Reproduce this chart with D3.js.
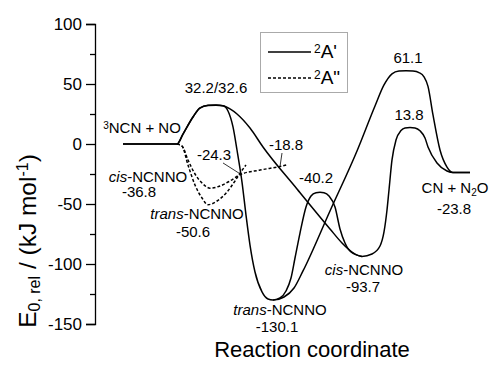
<!DOCTYPE html>
<html>
<head>
<meta charset="utf-8">
<script src="https://cdn.jsdelivr.net/npm/d3@7"></script>
<style>
  html, body { margin: 0; padding: 0; background: #fff; }
  svg { display: block; font-family: "Liberation Sans", Arial, sans-serif; }
</style>
</head>
<body>
<svg id="chart" width="489" height="368"></svg>
<script>
// Potential energy profile of 3NCN + NO -> CN + N2O.
// Each path is [reaction coordinate (arb. units), E0,rel (kJ/mol)].

// 2A' surface: reactants -> TS -> trans-NCNNO -> TS -> products
const pathTrans2Ap = [
  [14, 0], [41, 0], [44, 8.3], [49, 22.5], [52.5, 30], [56.5, 32.0], [60.5, 32.2],
  [64, 31.8], [66.5, 27.5], [69, 14.2], [71, -5], [73.5, -31.7], [75.5, -59.2],
  [77.5, -84.2], [80, -106.7], [83.5, -123.3], [86.5, -129.2], [89, -130.1],
  [94.5, -127.5], [99.5, -120], [104, -105.8], [117.5, -55.8], [131, -5.8],
  [140, 31.7], [144.5, 49.2], [148.5, 58.5], [152, 60.8], [155.5, 61.1], [159, 60.8],
  [162, 59.5], [164.5, 56], [166.5, 48], [169, 24.2], [172.5, -5], [176, -19.2],
  [179, -23.8], [187.5, -23.8]
];

// 2A' surface: reactants -> TS -> cis-NCNNO -> TS -> products
const pathCis2Ap = [
  [14, 0], [41, 0], [44, 8.3], [49, 22.5], [52.5, 30], [56.5, 32.3], [60.5, 32.6],
  [64.5, 31.7], [67.5, 29.2], [71, 25], [77.5, 13.3], [84, -2.5], [101, -37.5],
  [117.5, -70.8], [123.5, -82.5], [128.5, -90], [133.5, -93.7], [138.5, -91.7],
  [142.5, -85], [144.5, -73.3], [146, -55], [147, -38.3], [148.5, -13.3],
  [150.5, 3.3], [153, 11.2], [155, 13.4], [157.5, 13.8], [160, 13.4], [162.5, 11],
  [165, 5], [166.5, -2.5], [171, -15.8], [176, -22.5], [179, -23.8], [187.5, -23.8]
];

// 2A' isomerisation trans-NCNNO -> TS -> cis-NCNNO
const pathIsom2Ap = [
  [89, -130.1], [92.5, -128.3], [95.5, -122.5], [98, -111.7], [100, -95],
  [102.5, -74.2], [105.5, -52.5], [108, -43.3], [110.5, -40.6], [112.5, -40.2],
  [114.5, -40.6], [117, -43.3], [120, -52.5], [122.5, -70.8], [125, -82.5],
  [128, -90], [133.5, -93.7]
];

// 2A'' surface: cis-NCNNO well and its exit
const pathCis2App = [
  [41, 0], [43.5, -1.7], [46.5, -13.3], [50, -25], [53.5, -32.5], [57.5, -36.8],
  [62.5, -35], [67.5, -30.8], [72.5, -25.6], [82.5, -21.7], [92.5, -18.8],
  [96.5, -17.2]
];

// 2A'' surface: trans-NCNNO well and its exit
const pathTrans2App = [
  [41, 0], [43.5, -1.7], [46.5, -17.5], [50, -34.2], [53.5, -45], [56.5, -50.6],
  [61, -47.5], [66, -40], [70, -30.8], [72.5, -24.3], [75.5, -17.5]
];

// y-axis ticks
const majorTicks = [-150, -100, -50, 0, 50, 100];
const minorTicks = [-125, -75, -25, 25, 75];

// Annotations: text, anchor in data units
const labels = [
  { parts: [["32.2/32.6"]], at: [60.5, 42.5] },
  { parts: [["3", "sup"], ["NCN + NO"]], at: [23.5, 9.2] },
  { parts: [["cis", "it"], ["-NCNNO"]], at: [26.5, -31.7] },
  { parts: [["-36.8"]], at: [22, -44.2] },
  { parts: [["trans", "it"], ["-NCNNO"]], at: [51, -62.5] },
  { parts: [["-50.6"]], at: [49, -77.5] },
  { parts: [["-24.3"]], at: [59.5, -13.3] },
  { parts: [["-18.8"]], at: [95.5, -5] },
  { parts: [["-40.2"]], at: [110.5, -32.5] },
  { parts: [["61.1"]], at: [156.5, 67.5] },
  { parts: [["13.8"]], at: [157, 20] },
  { parts: [["CN + N"], ["2", "sub"], ["O"]], at: [180, -40.8] },
  { parts: [["-23.8"]], at: [179.5, -58.3] },
  { parts: [["cis", "it"], ["-NCNNO"]], at: [134.5, -109.2] },
  { parts: [["-93.7"]], at: [134, -123.3] },
  { parts: [["trans", "it"], ["-NCNNO"]], at: [92.5, -142.5] },
  { parts: [["-130.1"]], at: [91, -156.7] }
];

// Leader lines from value labels to the saddle points
const leaders = [
  [[64, -15.8], [72, -24.3]],
  [[93.5, -7.5], [92.5, -18.8]]
];

const svg = d3.select("#chart");
const x = d3.scaleLinear().domain([0, 200]).range([95, 495]);
const y = d3.scaleLinear().domain([-150, 100]).range([324, 24]);

// Axis
const yAxis = svg.append("g").attr("transform", `translate(${x(0)},0)`)
  .call(d3.axisLeft(y).tickValues(majorTicks).tickSize(9).tickPadding(4)
    .tickFormat(d => String(d)));
yAxis.selectAll("path").attr("stroke", "#000").attr("stroke-width", 1.3);
yAxis.selectAll(".tick line").attr("stroke", "#000").attr("stroke-width", 1.3);
yAxis.selectAll("text").attr("font-size", 17).attr("fill", "#000")
  .attr("font-family", "Liberation Sans, Arial, sans-serif");

const yMinor = svg.append("g").attr("transform", `translate(${x(0)},0)`)
  .call(d3.axisLeft(y).tickValues(minorTicks).tickSize(5).tickFormat(""));
yMinor.select("path").remove();
yMinor.selectAll(".tick line").attr("stroke", "#000").attr("stroke-width", 1.3);

// Curves
const line = d3.line().x(d => x(d[0])).y(d => y(d[1])).curve(d3.curveMonotoneX);
const solid = [pathTrans2Ap, pathCis2Ap, pathIsom2Ap];
const dashed = [pathCis2App, pathTrans2App];

svg.append("g").selectAll("path").data(solid).join("path")
  .attr("d", line).attr("fill", "none").attr("stroke", "#000")
  .attr("stroke-width", 1.5);

svg.append("g").selectAll("path").data(dashed).join("path")
  .attr("d", line).attr("fill", "none").attr("stroke", "#000")
  .attr("stroke-width", 1.5).attr("stroke-dasharray", "3,2");

// Leader lines
svg.append("g").selectAll("line").data(leaders).join("line")
  .attr("x1", d => x(d[0][0])).attr("y1", d => y(d[0][1]))
  .attr("x2", d => x(d[1][0])).attr("y2", d => y(d[1][1]))
  .attr("stroke", "#000").attr("stroke-width", 0.8);

// Annotations
const lab = svg.append("g").attr("font-size", 15).attr("fill", "#000")
  .selectAll("text").data(labels).join("text")
  .attr("x", d => x(d.at[0])).attr("y", d => y(d.at[1]))
  .attr("text-anchor", "middle");
lab.each(function (d) {
  const t = d3.select(this);
  d.parts.forEach(([s, kind]) => {
    const ts = t.append("tspan").text(s);
    if (kind === "it") ts.attr("font-style", "italic");
    if (kind === "sup") ts.attr("font-size", 10).attr("baseline-shift", "45%");
    if (kind === "sub") ts.attr("font-size", 10).attr("baseline-shift", "-25%");
  });
});

// Legend
const lg = svg.append("g");
lg.append("rect").attr("x", 260.5).attr("y", 32.5).attr("width", 87).attr("height", 60)
  .attr("fill", "#fff").attr("stroke", "#aaa").attr("stroke-width", 1);
const legendItems = [
  { name: "A'", dash: null, yy: 52 },
  { name: "A\"", dash: "3,2", yy: 78 }
];
legendItems.forEach(it => {
  lg.append("line").attr("x1", 268).attr("x2", 311).attr("y1", it.yy).attr("y2", it.yy)
    .attr("stroke", "#000").attr("stroke-width", 1.5)
    .attr("stroke-dasharray", it.dash);
  const t = lg.append("text").attr("x", 314).attr("y", it.yy + 6).attr("font-size", 19);
  t.append("tspan").text("2").attr("font-size", 12).attr("baseline-shift", "45%");
  t.append("tspan").text(it.name);
});

// Axis titles
const yt = svg.append("text")
  .attr("transform", "translate(36,241) rotate(-90)")
  .attr("text-anchor", "middle").attr("font-size", 24.5);
yt.append("tspan").text("E");
yt.append("tspan").text("0, rel").attr("font-size", 16).attr("baseline-shift", "-25%");
yt.append("tspan").text(" / (kJ mol");
yt.append("tspan").text("-1").attr("font-size", 16).attr("baseline-shift", "50%");
yt.append("tspan").text(")");

svg.append("text").attr("x", 312).attr("y", 357).attr("text-anchor", "middle")
  .attr("font-size", 22).text("Reaction coordinate");
</script>
</body>
</html>
